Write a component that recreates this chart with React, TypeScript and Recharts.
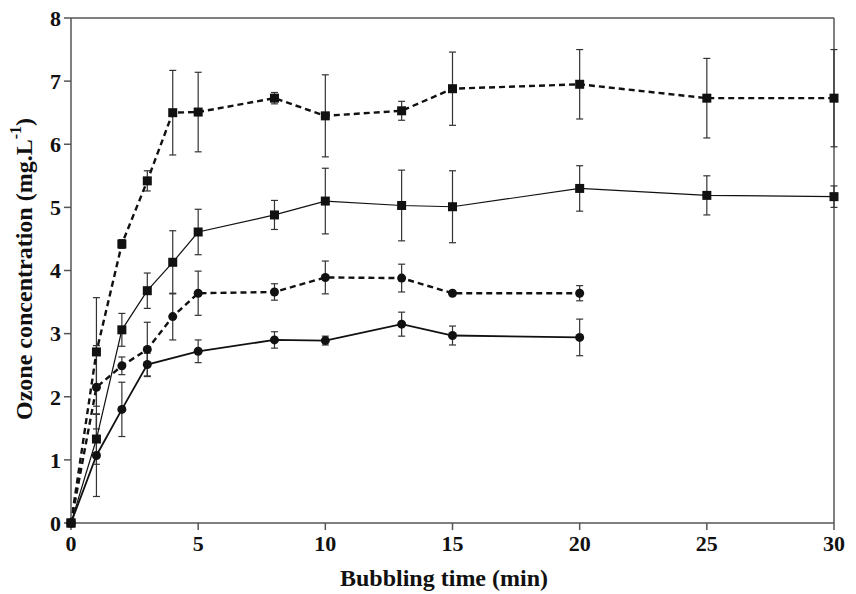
import { ErrorBar, Line, LineChart, ReferenceLine, XAxis, YAxis } from "recharts";

const squareTimes = [0, 1, 2, 3, 4, 5, 8, 10, 13, 15, 20, 25, 30];
const squareDashed = [0, 2.71, 4.42, 5.42, 6.5, 6.51, 6.73, 6.45, 6.53, 6.88, 6.95, 6.73, 6.73];
const squareDashedErr = [0, 0.86, 0.07, 0.16, 0.67, 0.63, 0.09, 0.65, 0.15, 0.58, 0.55, 0.63, 0.77];
const squareSolid = [0, 1.33, 3.06, 3.68, 4.13, 4.61, 4.88, 5.1, 5.03, 5.01, 5.3, 5.19, 5.17];
const squareSolidErr = [0, 0.4, 0.26, 0.28, 0.5, 0.36, 0.23, 0.52, 0.56, 0.57, 0.36, 0.31, 0.17];

const circleDashedTimes = [0, 1, 2, 3, 4, 5, 8, 10, 13, 15, 20];
const circleDashed = [0, 2.15, 2.49, 2.75, 3.27, 3.64, 3.66, 3.89, 3.88, 3.64, 3.64];
const circleDashedErr = [0, 0.66, 0.14, 0.43, 0.37, 0.35, 0.13, 0.26, 0.22, 0.03, 0.12];

const circleSolidTimes = [0, 1, 2, 3, 5, 8, 10, 13, 15, 20];
const circleSolid = [0, 1.07, 1.8, 2.51, 2.72, 2.9, 2.89, 3.15, 2.97, 2.94];
const circleSolidErr = [0, 0.65, 0.43, 0.18, 0.18, 0.13, 0.07, 0.19, 0.15, 0.29];

const xTicks = [0, 5, 10, 15, 20, 25, 30];
const yTicks = [0, 1, 2, 3, 4, 5, 6, 7, 8];

const build = (xs: number[], ys: number[], es: number[]) => xs.map((x, i) => ({ x, y: ys[i], e: es[i] }));

const ink = "#111";
const axisColor = "#555";
const font = "'Liberation Serif', 'DejaVu Serif', serif";

const Square = (props: any) => {
  const { cx, cy } = props;
  if (cx == null || cy == null) return null;
  return <rect x={cx - 4.5} y={cy - 4.5} width={9} height={9} fill={ink} />;
};

const Circle = (props: any) => {
  const { cx, cy } = props;
  if (cx == null || cy == null) return null;
  return <circle cx={cx} cy={cy} r={4.5} fill={ink} />;
};

const YLabel = () => (
  <text
    x={24}
    y={269}
    transform="rotate(-90 24 269)"
    textAnchor="middle"
    dominantBaseline="central"
    fontFamily={font}
    fontWeight="bold"
    fontSize={24}
    fill={ink}
  >
    Ozone concentration (mg.L
    <tspan fontSize={16} dy={-9}>-1</tspan>
    <tspan dy={9}>)</tspan>
  </text>
);

const XLabel = () => (
  <text
    x={444}
    y={578}
    textAnchor="middle"
    dominantBaseline="central"
    fontFamily={font}
    fontWeight="bold"
    fontSize={24}
    fill={ink}
  >
    Bubbling time (min)
  </text>
);

export default function App() {
  const tickStyle = { fontFamily: font, fontWeight: "bold", fontSize: 22, fill: ink };
  return (
    <div style={{ position: "absolute", left: 0, top: 0, background: "#fff" }}>
      <LineChart width={856} height={594} margin={{ top: 18, right: 22, left: 0, bottom: 21 }}>
        <XAxis
          type="number"
          dataKey="x"
          domain={[0, 30]}
          ticks={xTicks}
          allowDuplicatedCategory={false}
          stroke={axisColor}
          strokeWidth={1.5}
          tickSize={7}
          tickMargin={5}
          tick={tickStyle}
          height={50}
          label={{ content: () => <XLabel /> }}
        />
        <YAxis
          type="number"
          domain={[0, 8]}
          ticks={yTicks}
          stroke={axisColor}
          strokeWidth={1.5}
          tickSize={7}
          tickMargin={3}
          tick={tickStyle}
          width={71}
          label={{ content: () => <YLabel /> }}
        />
        <ReferenceLine y={8} stroke={axisColor} strokeWidth={1.5} />
        <ReferenceLine x={30} stroke={axisColor} strokeWidth={1.5} />
        <Line
          data={build(circleSolidTimes, circleSolid, circleSolidErr)}
          dataKey="y"
          stroke={ink}
          strokeWidth={1.8}
          dot={<Circle />}
          activeDot={false}
          isAnimationActive={false}
        >
          <ErrorBar dataKey="e" direction="y" width={3.5} stroke="#333" strokeWidth={1.2} />
        </Line>
        <Line
          data={build(circleDashedTimes, circleDashed, circleDashedErr)}
          dataKey="y"
          stroke={ink}
          strokeWidth={2.4}
          strokeDasharray="6 4"
          dot={<Circle />}
          activeDot={false}
          isAnimationActive={false}
        >
          <ErrorBar dataKey="e" direction="y" width={3.5} stroke="#333" strokeWidth={1.2} />
        </Line>
        <Line
          data={build(squareTimes, squareSolid, squareSolidErr)}
          dataKey="y"
          stroke={ink}
          strokeWidth={1.2}
          dot={<Square />}
          activeDot={false}
          isAnimationActive={false}
        >
          <ErrorBar dataKey="e" direction="y" width={3.5} stroke="#333" strokeWidth={1.2} />
        </Line>
        <Line
          data={build(squareTimes, squareDashed, squareDashedErr)}
          dataKey="y"
          stroke={ink}
          strokeWidth={2.4}
          strokeDasharray="6 4"
          dot={<Square />}
          activeDot={false}
          isAnimationActive={false}
        >
          <ErrorBar dataKey="e" direction="y" width={3.5} stroke="#333" strokeWidth={1.2} />
        </Line>
      </LineChart>
    </div>
  );
}
